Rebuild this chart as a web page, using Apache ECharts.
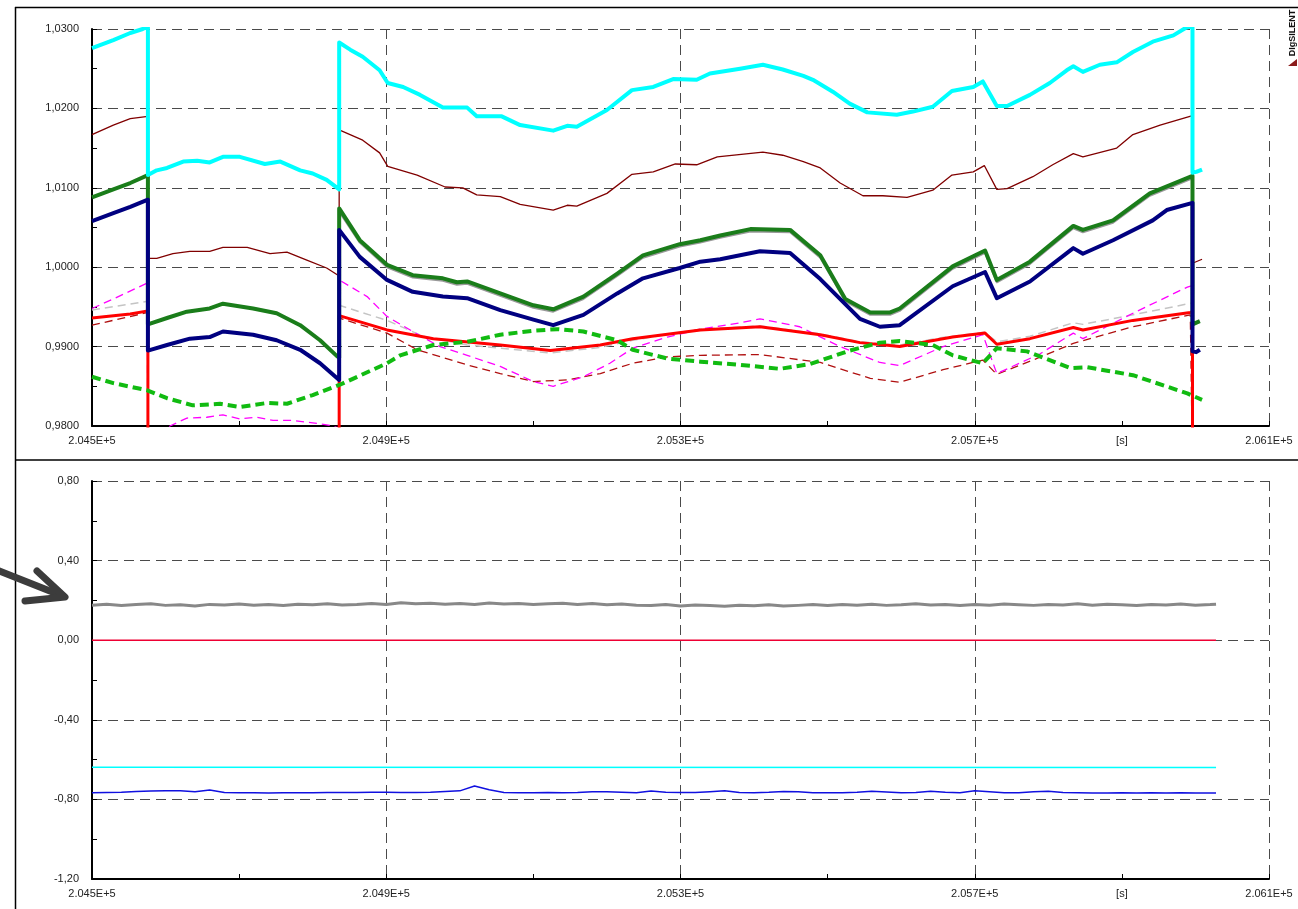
<!DOCTYPE html>
<html><head><meta charset="utf-8">
<script src="https://cdn.jsdelivr.net/npm/echarts@6/dist/echarts.min.js"></script>
<style>html,body{margin:0;padding:0;background:#fff}#c{width:1298px;height:909px}</style>
</head><body><div id="c"></div>
<script>
// ---- time reference (s) ----
const T0 = 204500;
const T_MAX = 206100;
const X_LABEL_VALUES = [204500, 204900, 205300, 205700, 205900, 206100];
const X_UNIT_AT = 205900; // "[s]" label position

// ---- top panel series: [time s, value p.u.] ----
const cyanTop = [[204500,1.0276],[204529,1.0286],[204552,1.0295],[204569,1.0300],[204576,1.0303],
 [204576,1.0116],[204588,1.0122],[204602,1.0125],[204624,1.0133],[204643,1.0134],[204660,1.0132],[204678,1.0139],[204701,1.0139],[204735,1.0130],[204756,1.0133],[204783,1.0122],[204800,1.0118],[204819,1.0110],[204836,1.0098],
 [204836,1.0283],[204851,1.0274],[204868,1.0265],[204891,1.0248],[204902,1.0232],[204923,1.0227],[204946,1.0217],[204977,1.0201],[205010,1.0201],[205023,1.0190],[205057,1.0190],[205082,1.0179],[205127,1.0172],[205146,1.0178],[205159,1.0177],[205200,1.0198],[205234,1.0223],[205263,1.0227],[205290,1.0237],[205322,1.0236],[205340,1.0244],[205381,1.0250],[205412,1.0255],[205439,1.0249],[205467,1.0241],[205480,1.0236],[205507,1.0221],[205530,1.0206],[205554,1.0195],[205594,1.0192],[205616,1.0196],[205643,1.0202],[205669,1.0222],[205698,1.0227],[205711,1.0234],[205730,1.0203],[205744,1.0203],[205775,1.0217],[205802,1.0232],[205825,1.0248],[205834,1.0253],[205847,1.0246],[205870,1.0255],[205893,1.0258],[205915,1.0271],[205942,1.0284],[205970,1.0292],[205986,1.0301],[205996,1.0304],
 [205996,1.0119],[206001,1.0120],[206009,1.0123]];

const maroonTop = [[204500,1.0167],[204529,1.0179],[204552,1.0187],[204576,1.0190],
 [204576,1.0011],[204588,1.0011],[204610,1.0017],[204633,1.0020],[204660,1.0020],[204678,1.0025],[204711,1.0025],[204742,1.0017],[204765,1.0019],[204792,1.0009],[204819,0.9999],[204836,0.9989],
 [204836,1.0173],[204868,1.0160],[204891,1.0144],[204902,1.0127],[204942,1.0116],[204980,1.0101],[205004,1.0100],[205023,1.0091],[205055,1.0089],[205082,1.0079],[205127,1.0072],[205146,1.0078],[205159,1.0077],[205200,1.0093],[205234,1.0117],[205263,1.0120],[205293,1.0130],[205322,1.0129],[205350,1.0139],[205412,1.0145],[205439,1.0141],[205467,1.0133],[205490,1.0125],[205517,1.0106],[205548,1.0090],[205575,1.0090],[205608,1.0088],[205643,1.0097],[205669,1.0116],[205698,1.0120],[205713,1.0128],[205730,1.0098],[205744,1.0099],[205779,1.0114],[205806,1.0129],[205834,1.0143],[205847,1.0139],[205893,1.0150],[205915,1.0167],[205952,1.0179],[205996,1.0191],
 [205996,1.0005],[206009,1.0010]];

const greenTop = [[204500,1.0088],[204529,1.0098],[204552,1.0106],[204576,1.0116],
 [204576,0.9928],[204602,0.9936],[204629,0.9944],[204660,0.9948],[204678,0.9954],[204719,0.9948],[204751,0.9942],[204783,0.9927],[204810,0.9908],[204833,0.9888],[204836,0.9886],
 [204836,1.0074],[204864,1.0034],[204901,1.0003],[204936,0.9990],[204977,0.9986],[204996,0.9981],[205010,0.9982],[205055,0.9967],[205100,0.9952],[205127,0.9947],[205168,0.9963],[205214,0.9992],[205249,1.0015],[205299,1.0029],[205327,1.0034],[205354,1.0040],[205395,1.0048],[205449,1.0047],[205490,1.0015],[205524,0.9960],[205558,0.9943],[205585,0.9943],[205598,0.9948],[205670,1.0001],[205714,1.0021],[205730,0.9984],[205775,1.0007],[205834,1.0052],[205847,1.0047],[205888,1.0059],[205938,1.0093],[205996,1.0115],
 [205996,0.9928],[206006,0.9932]];

const grayTop = [[204836,1.0070],[204864,1.0031],[204901,1.0000],[204936,0.9987],[204977,0.9983],[204996,0.9978],[205010,0.9979],[205055,0.9964],[205100,0.9949],[205127,0.9944],[205168,0.9960],[205214,0.9989],[205249,1.0012],[205299,1.0026],[205327,1.0031],[205354,1.0037],[205395,1.0045],[205449,1.0044],[205490,1.0012],[205524,0.9957],[205558,0.9940],[205585,0.9940],[205598,0.9945],[205670,0.9998],[205714,1.0018],[205730,0.9981],[205775,1.0004],[205834,1.0049],[205847,1.0044],[205888,1.0056],[205938,1.0090],[205996,1.0112]];

const navyTop = [[204500,1.0058],[204529,1.0068],[204552,1.0076],[204576,1.0085],
 [204576,0.9895],[204602,0.9902],[204633,0.9910],[204660,0.9912],[204678,0.9919],[204719,0.9915],[204751,0.9908],[204783,0.9896],[204810,0.9879],[204836,0.9858],
 [204836,1.0047],[204864,1.0013],[204901,0.9984],[204936,0.9969],[204977,0.9963],[205010,0.9961],[205055,0.9946],[205100,0.9934],[205127,0.9927],[205168,0.9940],[205214,0.9967],[205249,0.9986],[205299,0.9999],[205327,1.0007],[205354,1.0010],[205408,1.0020],[205449,1.0018],[205490,0.9985],[205544,0.9935],[205571,0.9925],[205598,0.9927],[205670,0.9976],[205714,0.9994],[205730,0.9961],[205775,0.9982],[205834,1.0024],[205847,1.0017],[205888,1.0034],[205942,1.0059],[205961,1.0072],[205996,1.0081],
 [205996,0.9894],[206001,0.9893],[206006,0.9896]];

const redTop = [[204500,0.9936],[204552,0.9941],[204576,0.9945],[204576,0.9750],[204836,0.9750],
 [204836,0.9939],[204901,0.9921],[204964,0.9910],[205055,0.9902],[205123,0.9895],[205191,0.9902],[205235,0.9910],[205327,0.9921],[205408,0.9925],[205490,0.9915],[205544,0.9905],[205598,0.9900],[205670,0.9912],[205714,0.9917],[205730,0.9903],[205775,0.9910],[205834,0.9924],[205847,0.9921],[205915,0.9933],[205993,0.9943],[205996,0.9944],[205996,0.9750]];

const silverTop = [[204500,0.9946],[204576,0.9957],[204576,0.9750],[204836,0.9750],
 [204836,0.9952],[204901,0.9933],[204950,0.9913],[205010,0.9902],[205055,0.9898],[205123,0.9892],[205191,0.9899],[205235,0.9908],[205327,0.9922],[205408,0.9926],[205490,0.9916],[205544,0.9906],[205598,0.9902],[205653,0.9911],[205713,0.9918],[205730,0.9906],[205775,0.9913],[205834,0.9930],[205847,0.9928],[205915,0.9940],[205996,0.9955],[205996,0.9750]];

const darkRedDashTop = [[204500,0.9927],[204576,0.9943],[204576,0.9750],[204836,0.9750],
 [204836,0.9936],[204901,0.9917],[204942,0.9896],[205010,0.9877],[205055,0.9866],[205100,0.9856],[205146,0.9858],[205191,0.9866],[205235,0.9879],[205282,0.9887],[205327,0.9889],[205408,0.9890],[205490,0.9880],[205558,0.9860],[205598,0.9855],[205657,0.9871],[205711,0.9883],[205730,0.9865],[205779,0.9883],[205834,0.9904],[205915,0.9925],[205993,0.9940],[205996,0.9750]];

const magentaTop = [[204500,0.9948],[204529,0.9960],[204575,0.9980],[204576,0.9760],[204606,0.9800],[204629,0.9810],[204656,0.9811],[204678,0.9814],[204701,0.9809],[204724,0.9811],[204746,0.9807],[204773,0.9807],[204800,0.9804],[204828,0.9800],[204836,0.9797],
 [204836,0.9984],[204874,0.9963],[204901,0.9938],[204936,0.9919],[204973,0.9900],[205010,0.9889],[205055,0.9875],[205100,0.9856],[205127,0.9850],[205168,0.9862],[205204,0.9879],[205235,0.9898],[205282,0.9912],[205327,0.9922],[205381,0.9930],[205408,0.9935],[205462,0.9925],[205517,0.9900],[205571,0.9880],[205598,0.9876],[205657,0.9900],[205711,0.9915],[205730,0.9866],[205789,0.9891],[205834,0.9917],[205847,0.9910],[205915,0.9942],[205989,0.9975],[205996,0.9977],[205996,0.9750]];

const greenDashTop = [[204500,0.9862],[204529,0.9854],[204575,0.9845],[204602,0.9835],[204637,0.9826],[204674,0.9828],[204701,0.9824],[204738,0.9829],[204765,0.9828],[204800,0.9839],[204837,0.9852],[204901,0.9879],[204919,0.9889],[204964,0.9902],[205010,0.9906],[205055,0.9915],[205100,0.9920],[205132,0.9922],[205168,0.9919],[205214,0.9908],[205235,0.9896],[205282,0.9885],[205327,0.9881],[205381,0.9877],[205435,0.9872],[205476,0.9878],[205530,0.9895],[205571,0.9905],[205598,0.9907],[205643,0.9902],[205670,0.9889],[205711,0.9879],[205730,0.9898],[205771,0.9894],[205830,0.9873],[205853,0.9874],[205915,0.9864],[205989,0.9841],[206009,0.9833]];

// ---- bottom panel ----
const bottomTimes = [204500,204520,204540,204560,204580,204600,204620,204640,204660,204680,
 204700,204720,204740,204760,204780,204800,204820,204840,204860,204880,
 204900,204920,204940,204960,204980,205000,205020,205040,205060,205080,
 205100,205120,205140,205160,205180,205200,205220,205240,205260,205280,
 205300,205320,205340,205360,205380,205400,205420,205440,205460,205480,
 205500,205520,205540,205560,205580,205600,205620,205640,205660,205680,
 205700,205720,205740,205760,205780,205800,205820,205840,205860,205880,
 205900,205920,205940,205960,205980,206000,206020,206028];
const grayBottom = [0.176,0.181,0.174,0.179,0.183,0.175,0.178,0.172,0.180,0.177,
 0.182,0.176,0.179,0.174,0.181,0.178,0.183,0.177,0.180,0.185,
 0.179,0.188,0.183,0.186,0.181,0.184,0.179,0.187,0.182,0.185,
 0.180,0.183,0.186,0.179,0.184,0.178,0.182,0.176,0.174,0.179,
 0.172,0.177,0.174,0.170,0.176,0.173,0.178,0.172,0.175,0.179,
 0.174,0.180,0.176,0.181,0.175,0.178,0.183,0.177,0.180,0.174,
 0.179,0.176,0.182,0.178,0.175,0.180,0.177,0.183,0.176,0.181,
 0.178,0.174,0.180,0.177,0.182,0.176,0.179,0.181];
const blueBottom = [-0.766,-0.765,-0.764,-0.760,-0.758,-0.756,-0.757,-0.762,-0.753,-0.765,
 -0.767,-0.767,-0.768,-0.767,-0.767,-0.766,-0.765,-0.765,-0.765,-0.764,
 -0.764,-0.765,-0.765,-0.764,-0.760,-0.757,-0.733,-0.752,-0.765,-0.766,
 -0.766,-0.765,-0.766,-0.765,-0.762,-0.761,-0.764,-0.766,-0.758,-0.764,
 -0.765,-0.765,-0.761,-0.756,-0.765,-0.766,-0.764,-0.760,-0.761,-0.766,
 -0.766,-0.766,-0.764,-0.759,-0.763,-0.766,-0.765,-0.759,-0.764,-0.766,
 -0.757,-0.762,-0.766,-0.766,-0.762,-0.759,-0.765,-0.767,-0.768,-0.768,
 -0.767,-0.768,-0.767,-0.768,-0.767,-0.768,-0.768,-0.768];
const redBottom = [[204500,0.0],[206028,0.0]];
const cyanBottom = [[204500,-0.638],[206028,-0.640]];

// ---- build ----
const rel = arr => arr.map(p => [p[0] - T0, p[1]]);
const relTV = (ts, vs) => ts.map((t, i) => [t - T0, vs[i]]);
const FONT = "'Liberation Sans', Arial, sans-serif";
const chart = echarts.init(document.getElementById('c'), null, {renderer: 'canvas'});

function xAxis(gi) {
  return {
    type: 'value', gridIndex: gi, min: 0, max: T_MAX - T0, interval: 400,
    axisLine: {show: true, onZero: false, lineStyle: {color: '#000', width: 2}},
    axisTick: {show: true, inside: true, length: 5, lineStyle: {color: '#000'}},
    minorTick: {show: true, splitNumber: 2, length: 5, lineStyle: {color: '#000'}},
    splitLine: {show: true, lineStyle: {color: '#4a4a4a', width: 1, type: [10, 6]}},
    axisLabel: {
      customValues: X_LABEL_VALUES.map(v => v - T0),
      margin: 9, color: '#222', fontSize: 11, fontFamily: FONT,
      formatter: v => (Math.abs(v + T0 - X_UNIT_AT) < 1e-6) ? '[s]' : ((v + T0) / 1e5).toFixed(3) + 'E+5'
    }
  };
}
function yAxis(gi, min, max, interval, dec) {
  return {
    type: 'value', gridIndex: gi, min, max, interval,
    axisLine: {show: true, onZero: false, lineStyle: {color: '#000', width: 2}},
    axisTick: {show: true, inside: true, length: 5, lineStyle: {color: '#000'}},
    minorTick: {show: true, splitNumber: 2, length: 5, lineStyle: {color: '#000'}},
    splitLine: {show: true, lineStyle: {color: '#4a4a4a', width: 1, type: [10, 6]}},
    axisLabel: {margin: 13, color: '#222', fontSize: 11, fontFamily: FONT,
      formatter: v => v.toFixed(dec).replace('.', ',')}
  };
}
function line(data, color, width, type, gi) {
  return {
    type: 'line', xAxisIndex: gi, yAxisIndex: gi, data, showSymbol: false, symbol: 'none',
    clip: true, animation: false,
    lineStyle: {color, width, type: type || 'solid', join: 'round'}
  };
}

const option = {
  animation: false,
  backgroundColor: '#fff',
  textStyle: {fontFamily: FONT},
  grid: [
    {left: 92, top: 29, width: 1177, height: 397},
    {left: 92, top: 481, width: 1177, height: 398}
  ],
  xAxis: [xAxis(0), xAxis(1)],
  yAxis: [yAxis(0, 0.98, 1.03, 0.01, 4), yAxis(1, -1.2, 0.8, 0.4, 2)],
  series: [
    line(rel(silverTop), '#c4c4c4', 1.5, [8, 5], 0),
    line(rel(darkRedDashTop), '#b01010', 1.3, [8, 5], 0),
    line(rel(magentaTop), '#ff00ff', 1.3, [8, 5], 0),
    line(rel(redTop), '#ff0000', 3, 'solid', 0),
    line(rel(greenDashTop), '#11bb11', 4, [9, 5], 0),
    line(rel(maroonTop), '#800000', 1.3, 'solid', 0),
    line(rel(grayTop), '#999999', 2, 'solid', 0),
    line(rel(greenTop), '#1a7d1a', 4, 'solid', 0),
    line(rel(navyTop), '#000080', 4, 'solid', 0),
    line(rel(cyanTop), '#00ffff', 4, 'solid', 0),
    line(relTV(bottomTimes, grayBottom), '#888888', 3, 'solid', 1),
    line(rel(redBottom), '#ee0033', 1.5, 'solid', 1),
    line(rel(cyanBottom), '#00ffff', 1.5, 'solid', 1),
    line(relTV(bottomTimes, blueBottom), '#1010e0', 1.5, 'solid', 1)
  ],
  graphic: [
    {type: 'line', shape: {x1: 15, y1: 7.5, x2: 1298, y2: 7.5}, style: {stroke: '#000', lineWidth: 1.5}},
    {type: 'line', shape: {x1: 15.5, y1: 7, x2: 15.5, y2: 909}, style: {stroke: '#000', lineWidth: 1.5}},
    {type: 'line', shape: {x1: 15, y1: 460, x2: 1298, y2: 460}, style: {stroke: '#000', lineWidth: 1.5}},
    {type: 'text', x: 1293, y: 33, rotation: Math.PI / 2,
      style: {text: 'DIgSILENT', fill: '#111', font: "bold 9px 'Liberation Sans', Arial, sans-serif", textAlign: 'center', textVerticalAlign: 'middle'}},
    {type: 'polygon', shape: {points: [[1288, 66], [1297, 59], [1297, 66]]}, style: {fill: '#8b1a1a'}},
    {type: 'polyline', shape: {points: [[-3, 570], [60, 595]]}, style: {stroke: '#3c3c3c', lineWidth: 7, lineCap: 'round'}},
    {type: 'polyline', shape: {points: [[37, 571], [65, 597], [25, 601]]}, style: {stroke: '#3c3c3c', fill: null, lineWidth: 7, lineCap: 'round', lineJoin: 'round'}}
  ]
};
chart.setOption(option);
</script>
</body></html>
